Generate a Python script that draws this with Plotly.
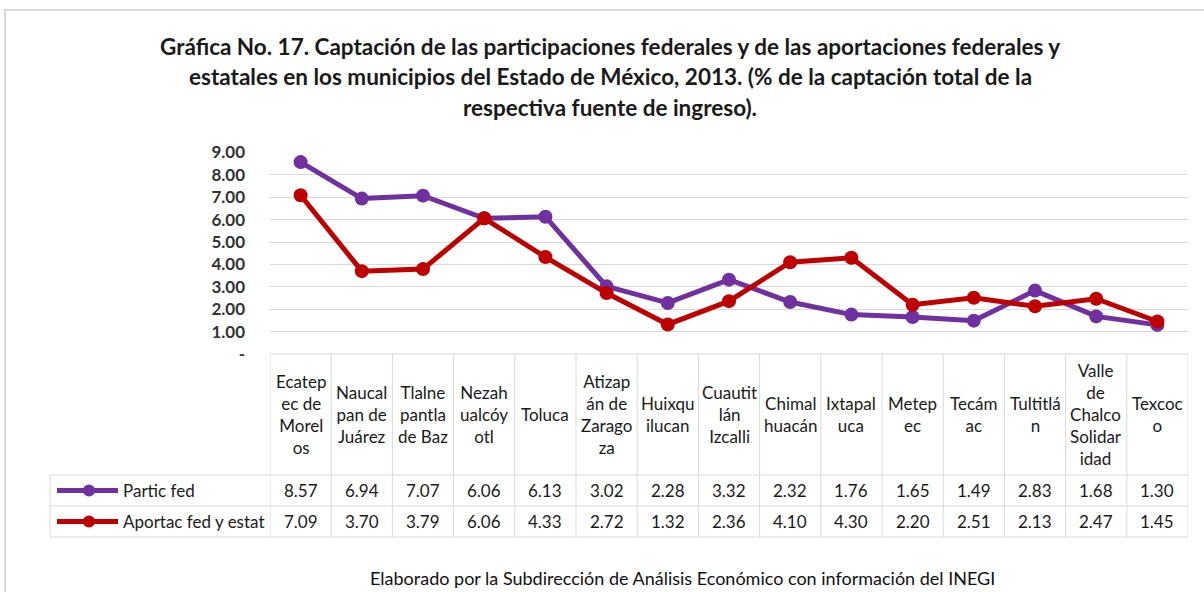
import plotly.graph_objects as go

# categorias (tal como aparecen en la tabla, cortadas en renglones)
municipios = [
    "Ecatep<br>ec de<br>Morel<br>os", "Naucal<br>pan de<br>Juárez", "Tlalne<br>pantla<br>de Baz",
    "Nezah<br>ualcóy<br>otl", "Toluca", "Atizap<br>án de<br>Zarago<br>za", "Huixqu<br>ilucan",
    "Cuautit<br>lán<br>Izcalli", "Chimal<br>huacán", "Ixtapal<br>uca", "Metep<br>ec", "Tecám<br>ac",
    "Tultitlá<br>n", "Valle<br>de<br>Chalco<br>Solidar<br>idad", "Texcoc<br>o",
]
partic_fed = [8.57, 6.94, 7.07, 6.06, 6.13, 3.02, 2.28, 3.32, 2.32, 1.76, 1.65, 1.49, 2.83, 1.68, 1.30]
aportac_fed_estat = [7.09, 3.70, 3.79, 6.06, 4.33, 2.72, 1.32, 2.36, 4.10, 4.30, 2.20, 2.51, 2.13, 2.47, 1.45]
series_nombres = ["Partic fed", "Aportac fed y estat"]
y_ticks = [0, 1, 2, 3, 4, 5, 6, 7, 8, 9]

titulo = [
    "Gráfica No. 17. Captación de las participaciones federales y de las aportaciones federales y",
    "estatales en los municipios del Estado de México, 2013. (% de la captación total de la",
    "respectiva fuente de ingreso).",
]
fuente = "Elaborado por la Subdirección de Análisis Económico con información del INEGI"

colores = ["#7030A0", "#C00000"]
FONT = "Lato"
GRID = "#D9D9D9"
TXT = "#1a1a1a"

# plot area in pixels: x 270..1188, y 152..354
L, R, T, B = 270, 1188, 152, 354
W, H = 1204, 592


def px_x(p):
    return (p - L) / (R - L)


def px_y(p):
    return (B - p) / (B - T)


n = len(municipios)
idx = list(range(n))
fig = go.Figure()
for nombre, vals, c in zip(series_nombres, [partic_fed, aportac_fed_estat], colores):
    fig.add_trace(go.Scatter(
        x=idx, y=vals, name=nombre, mode="lines+markers",
        line=dict(color=c, width=5), marker=dict(color=c, size=14),
        showlegend=False, cliponaxis=False,
    ))

shapes = []
ann = []

# chart area frame
shapes.append(dict(type="rect", xref="paper", yref="paper",
                   x0=px_x(5), x1=px_x(W + 10), y0=px_y(10), y1=px_y(W),
                   line=dict(color=GRID, width=2)))

# table: vertical lines
row_y = [354, 475, 506, 537]
for i in range(n + 1):
    shapes.append(dict(type="line", xref="x", yref="paper", x0=i - 0.5, x1=i - 0.5,
                       y0=px_y(354), y1=px_y(537), line=dict(color=GRID, width=1)))
shapes.append(dict(type="line", xref="paper", yref="paper", x0=px_x(50), x1=px_x(50),
                   y0=px_y(475), y1=px_y(537), line=dict(color=GRID, width=1)))
# table: horizontal lines
shapes.append(dict(type="line", xref="paper", yref="paper", x0=0, x1=1,
                   y0=px_y(354), y1=px_y(354), line=dict(color=GRID, width=1)))
for yy in row_y[1:]:
    shapes.append(dict(type="line", xref="paper", yref="paper", x0=px_x(50), x1=1,
                       y0=px_y(yy), y1=px_y(yy), line=dict(color=GRID, width=1)))

# header labels
for i, lab in enumerate(municipios):
    ann.append(dict(x=i, y=px_y((354 + 475) / 2), xref="x", yref="paper", text=lab,
                    showarrow=False, font=dict(family=FONT, size=17, color=TXT),
                    align="center", xanchor="center", yanchor="middle"))

# rows: legend key + values
for r, (nombre, vals, c) in enumerate(zip(series_nombres, [partic_fed, aportac_fed_estat], colores)):
    yc = (row_y[r + 1] + row_y[r + 2]) / 2
    shapes.append(dict(type="line", xref="paper", yref="paper", x0=px_x(57), x1=px_x(118),
                       y0=px_y(yc), y1=px_y(yc), line=dict(color=c, width=5)))
    shapes.append(dict(type="circle", xref="paper", yref="paper", xsizemode="pixel", ysizemode="pixel",
                       xanchor=px_x(89), yanchor=px_y(yc), x0=-6, x1=6, y0=-6, y1=6,
                       fillcolor=c, line=dict(color=c, width=0)))
    ann.append(dict(x=px_x(121), y=px_y(yc), xref="paper", yref="paper", text=nombre,
                    showarrow=False, font=dict(family=FONT, size=17, color=TXT),
                    xanchor="left", yanchor="middle"))
    for i, v in enumerate(vals):
        ann.append(dict(x=i, y=px_y(yc), xref="x", yref="paper", text=f"{v:.2f}",
                        showarrow=False, font=dict(family=FONT, size=17, color=TXT),
                        xanchor="center", yanchor="middle"))

# title lines
for k, (line, yy) in enumerate(zip(titulo, [46, 77, 107])):
    ann.append(dict(x=px_x(610), y=px_y(yy), xref="paper", yref="paper", text=f"<b>{line}</b>",
                    showarrow=False, font=dict(family=FONT, size=22.5, color=TXT),
                    xanchor="center", yanchor="middle"))

ann.append(dict(x=px_x(682), y=px_y(578), xref="paper", yref="paper", text=fuente,
                showarrow=False, font=dict(family=FONT, size=18, color="#111111"),
                xanchor="center", yanchor="middle"))

fig.update_layout(
    width=W, height=H,
    margin=dict(l=L, r=W - R, t=T, b=H - B),
    paper_bgcolor="white", plot_bgcolor="white",
    shapes=shapes, annotations=ann,
    xaxis=dict(type="linear", range=[-0.5, n - 0.5], showgrid=False, zeroline=False,
               showticklabels=False, showline=False),
    yaxis=dict(range=[0, 9.02], tickvals=y_ticks,
               ticktext=["-" if v == 0 else f"{v:.2f}" for v in y_ticks],
               showgrid=True, gridcolor=GRID, gridwidth=1, zeroline=False, showline=False,
               ticklabelstandoff=24,
               tickfont=dict(family=FONT, size=17, color="#333333", weight="bold")),
)

fig.write_html("out.html", config={"displayModeBar": False},
               post_script="document.body.style.margin='0';")
